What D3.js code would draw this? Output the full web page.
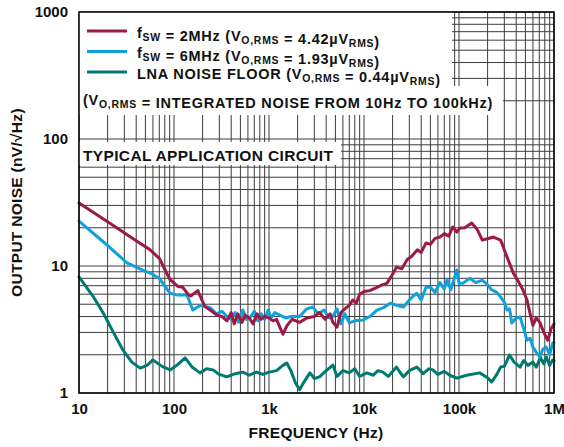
<!DOCTYPE html>
<html><head><meta charset="utf-8">
<script src="https://cdn.jsdelivr.net/npm/d3@7/dist/d3.min.js"></script>
<style>body{margin:0;background:#fff}svg text{font-family:"Liberation Sans",Arial,sans-serif;font-weight:bold;fill:#111}</style>
</head><body>
<svg id="c" width="564" height="447"></svg>
<script>
const xTickValues = [10, 100, 1e3, 1e4, 1e5, 1e6];
const xTickLabels = ["10", "100", "1k", "10k", "100k", "1M"];
const yTickValues = [1, 10, 100, 1000];
const yTickLabels = ["1", "10", "100", "1000"];

const fsw2Freq = [10,20,40,56,70,91,110,124,140,150,178,211,240,283,320,361,400,430,470,520,560,620,680,750,820,900,1000,1100,1200,1300,1400,1550,1750,2100,2500,3000,3400,3900,4400,4700,5200,5700,6300,7000,7600,8300,9000,10000,11500,13700,15500,17400,20000,22000,25000,28400,32000,36500,40000,45000,50000,56000,63000,70000,78000,86000,95000,102000,115000,136000,155000,176000,200000,230000,274000,320000,373000,420000,470000,520000,557000,600000,650000,710000,780000,860000,930000,1000000];
const fsw2Noise = [31.3,22.3,15.8,13.4,11.5,7.8,6.9,6.8,6.0,5.8,6.4,4.8,4.5,4.1,4.0,3.7,4.3,3.5,4.2,3.6,4.1,3.9,3.5,4.2,3.8,4.0,3.9,3.7,3.8,3.3,2.9,3.4,3.8,3.6,3.9,4.0,4.3,3.8,4.2,3.6,3.3,4.3,4.6,4.9,5.4,5.1,6.0,6.3,6.4,6.8,7.1,7.3,8.6,9.8,9.5,11.2,12.0,13.4,12.8,15.2,14.8,16.5,16.9,18.0,17.2,20.3,18.5,19.9,20.0,21.8,19.5,16.0,16.4,16.9,16.0,11.8,8.8,7.6,6.5,5.4,4.3,3.4,3.9,3.6,3.0,2.6,3.2,3.5];

const fsw6Freq = [10,20,32,45,56,70,91,110,137,158,190,240,280,320,360,400,440,480,530,580,640,700,760,830,900,980,1050,1150,1300,1500,1700,2100,2500,2900,3300,3800,4300,4700,5200,5700,6300,7000,8000,9800,11500,13700,16000,19000,22000,26000,30000,33000,36000,40000,45000,50000,56000,63000,70000,75000,82000,90000,95000,100000,110000,130000,150000,176000,200000,220000,250000,274000,300000,320000,340000,360000,400000,440000,480000,520000,560000,600000,650000,710000,760000,830000,900000,970000,1000000];
const fsw6Noise = [22.6,14.5,10.6,9.4,8.8,8.0,6.1,5.9,5.9,4.5,4.9,4.7,4.2,4.4,4.0,3.8,4.3,3.6,4.5,3.8,4.0,4.4,3.7,4.2,3.8,4.5,3.9,4.3,4.1,3.9,4.0,4.0,4.6,4.75,4.2,4.5,3.9,4.0,4.6,3.5,4.2,3.56,3.7,3.76,4.0,4.5,4.7,5.1,4.9,4.76,5.4,5.8,6.1,5.4,6.8,6.8,6.2,7.4,6.6,7.8,6.5,8.2,9.3,7.3,7.3,8.0,7.4,7.75,7.1,6.5,6.2,5.7,5.2,4.5,4.6,3.56,3.9,3.97,3.2,2.6,2.7,2.3,2.1,1.92,2.2,2.3,2.0,2.47,2.5];

const lnaFreq = [10,14,18,23,29,36,44,52,60,75,91,110,131,155,188,220,258,300,360,440,530,620,740,860,1000,1200,1400,1540,1700,1900,2100,2300,2700,3000,3400,4000,4700,5200,6000,7000,8000,9000,10700,12500,14000,15800,18000,22000,24000,26000,30000,36000,42000,48000,53000,60000,70000,80000,95000,120000,165000,200000,220000,250000,274000,300000,340000,380000,440000,480000,530000,600000,650000,720000,780000,830000,900000,970000,1000000];
const lnaNoise = [8.2,5.8,4.26,3.0,2.18,1.75,1.57,1.65,1.82,1.62,1.52,1.68,1.89,1.6,1.44,1.55,1.52,1.40,1.34,1.42,1.46,1.38,1.46,1.40,1.46,1.50,1.65,1.72,1.5,1.2,1.06,1.2,1.44,1.3,1.34,1.5,1.66,1.35,1.5,1.44,1.55,1.35,1.44,1.38,1.5,1.46,1.35,1.6,1.45,1.34,1.5,1.6,1.42,1.55,1.52,1.4,1.48,1.38,1.31,1.38,1.44,1.32,1.22,1.4,1.6,1.62,1.99,1.75,1.6,1.8,1.65,1.75,1.6,1.9,1.7,1.92,1.65,1.82,1.8];

const seriesColors = ["#9c1a44", "#10a0dc", "#007a70"];

const svg = d3.select("#c");
const L = 79, R = 554, T = 12, B = 393;
const x = d3.scaleLog().domain([10, 1e6]).range([L, R]);
const y = d3.scaleLog().domain([1, 1000]).range([B, T]);
const FONT = '"Liberation Sans",Arial,sans-serif';

// grid
const g = svg.append("g");
g.selectAll("line.v").data(x.ticks()).enter().append("line")
  .attr("x1", d => x(d)).attr("x2", d => x(d)).attr("y1", T).attr("y2", B)
  .attr("stroke", "#3c3c3c").attr("stroke-width", 1);
g.selectAll("line.h").data(y.ticks()).enter().append("line")
  .attr("y1", d => y(d)).attr("y2", d => y(d)).attr("x1", L).attr("x2", R)
  .attr("stroke", "#3c3c3c").attr("stroke-width", 1);

// white boxes for legend and notes
svg.append("rect").attr("x", L).attr("y", T).attr("width", 452 - L).attr("height", 74).attr("fill", "#fff");
svg.append("rect").attr("x", L).attr("y", 86).attr("width", 503 - L).attr("height", 29).attr("fill", "#fff");
svg.append("rect").attr("x", L).attr("y", 142).attr("width", 341 - L).attr("height", 23).attr("fill", "#fff");

// data lines
const data = [
  d3.zip(fsw2Freq, fsw2Noise),
  d3.zip(fsw6Freq, fsw6Noise),
  d3.zip(lnaFreq, lnaNoise)
];
const line = d3.line().x(d => x(d[0])).y(d => y(d[1]));
[2, 1, 0].forEach(i => {
  svg.append("path").attr("d", line(data[i])).attr("fill", "none")
    .attr("stroke", seriesColors[i]).attr("stroke-width", 3)
    .attr("stroke-linejoin", "round").attr("stroke-linecap", "round");
});

// frame
svg.append("rect").attr("x", L).attr("y", T).attr("width", R - L).attr("height", B - T)
  .attr("fill", "none").attr("stroke", "#000").attr("stroke-width", 1.5);

// axes labels
const xa = svg.append("g").attr("transform", `translate(0,${B})`)
  .call(d3.axisBottom(x).tickValues(xTickValues).tickSize(0).tickPadding(10)
    .tickFormat((d, i) => xTickLabels[i]));
xa.select(".domain").remove();
xa.selectAll("text").attr("font-size", 15).style("font-family", FONT).style("font-weight", "bold").attr("fill", "#111");

const ya = svg.append("g").attr("transform", `translate(${L},0)`)
  .call(d3.axisLeft(y).tickValues(yTickValues).tickSize(0).tickPadding(11)
    .tickFormat((d, i) => yTickLabels[i]));
ya.select(".domain").remove();
ya.selectAll("text").attr("font-size", 15).style("font-family", FONT).style("font-weight", "bold").attr("fill", "#111");

svg.append("text").attr("x", 316).attr("y", 438).attr("text-anchor", "middle")
  .attr("font-size", 15.5).attr("letter-spacing", 0.3).text("FREQUENCY (Hz)");
svg.append("text").attr("transform", `translate(22,${(T + B) / 2}) rotate(-90)`).attr("text-anchor", "middle")
  .attr("font-size", 15.5).attr("letter-spacing", 0.3).text("OUTPUT NOISE (nV/√Hz)");

// legend
function rich(sel, parts, size) {
  sel.attr("letter-spacing", 0.75);
  parts.forEach(p => {
    if (typeof p === "string") {
      sel.append("tspan").attr("font-size", size).text(p);
    } else {
      sel.append("tspan").attr("font-size", size * 0.72).attr("dy", 3).text(p.sub);
      sel.append("tspan").attr("font-size", size).attr("dy", -3).text("");
    }
  });
}
const legendTexts = [
  ["f", {sub: "SW"}, " = 2MHz (V", {sub: "O,RMS"}, " = 4.42µV", {sub: "RMS"}, ")"],
  ["f", {sub: "SW"}, " = 6MHz (V", {sub: "O,RMS"}, " = 1.93µV", {sub: "RMS"}, ")"],
  ["LNA NOISE FLOOR (V", {sub: "O,RMS"}, " = 0.44µV", {sub: "RMS"}, ")"]
];
const rowY = [31, 51.5, 72];
legendTexts.forEach((parts, i) => {
  svg.append("line").attr("x1", 87).attr("x2", 127).attr("y1", rowY[i]).attr("y2", rowY[i])
    .attr("stroke", seriesColors[i]).attr("stroke-width", 3);
  const t = svg.append("text").attr("x", 137).attr("y", rowY[i] + 6.5);
  rich(t, parts, 14.5);
});
const note = svg.append("text").attr("x", 83).attr("y", 105);
rich(note, ["(V", {sub: "O,RMS"}, " = INTEGRATED NOISE FROM 10Hz TO 100kHz)"], 14.5);
svg.append("text").attr("x", 83).attr("y", 161).attr("font-size", 15.5).attr("letter-spacing", 0.35)
  .text("TYPICAL APPLICATION CIRCUIT");
</script>
</body></html>
